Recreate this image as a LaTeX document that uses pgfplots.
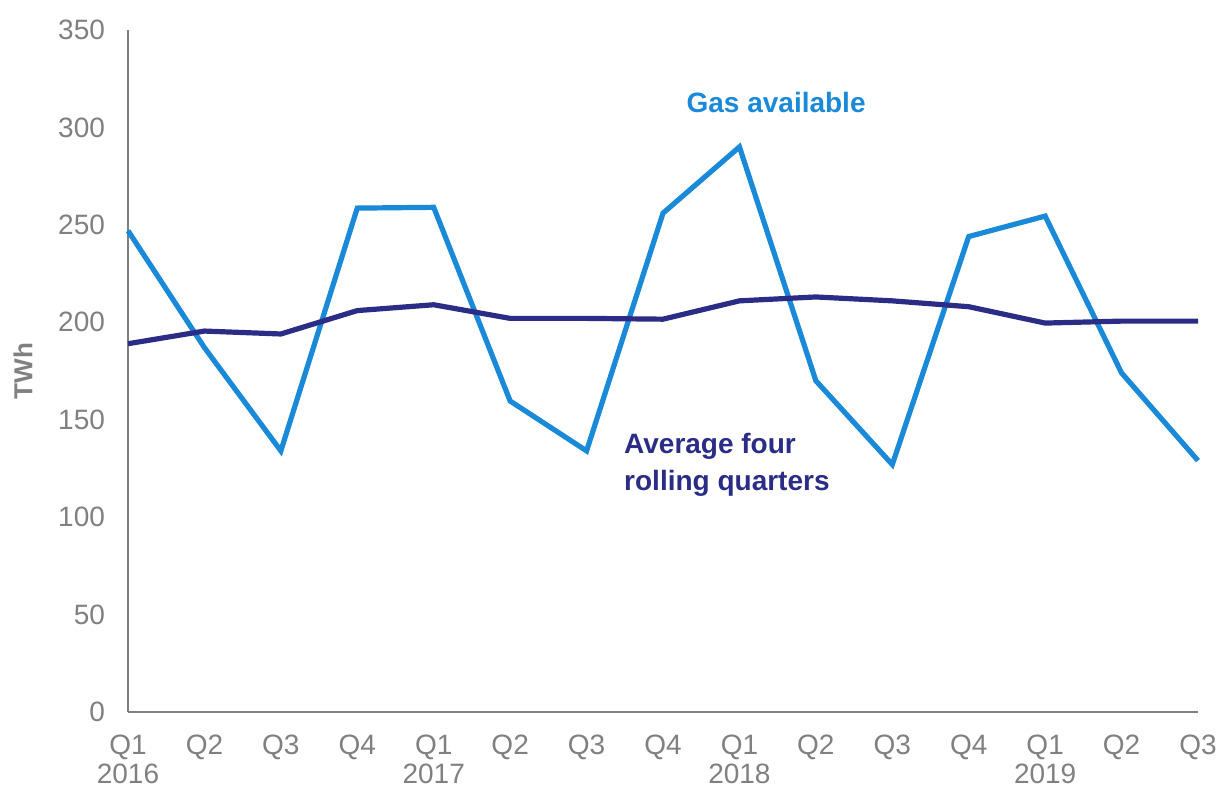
\documentclass[border=0pt]{standalone}
\usepackage{pgfplots}
\pgfplotsset{compat=1.18}
\usepackage{fontspec}
\setmainfont{Liberation Sans}
\definecolor{gasblue}{HTML}{1A8AD8}
\definecolor{navy}{HTML}{2B2C85}
\definecolor{axgray}{HTML}{808080}
\begin{document}
\begin{tikzpicture}
\begin{axis}[
  name=ax,
  scale only axis,
  width=535pt, height=341pt,
  xmin=0, xmax=14, ymin=0, ymax=350,
  axis lines=left,
  axis line style={-, axgray, line width=1pt},
  major tick length=0pt,
  ytick={0,50,...,350},
  xtick={0,...,14},
  xticklabels={{Q1\\2016},Q2,Q3,Q4,{Q1\\2017},Q2,Q3,Q4,{Q1\\2018},Q2,Q3,Q4,{Q1\\2019},Q2,Q3},
  xticklabel style={align=center, font=\fontsize{14}{14.5}\selectfont, text=axgray, anchor=north, yshift=-8pt},
  yticklabel style={font=\fontsize{14}{16}\selectfont, text=axgray, xshift=-8pt},
  /pgf/number format/assume math mode=true,
  ylabel={\textbf{TWh}},
  ylabel style={font=\fontsize{13}{15}\selectfont, text=axgray, yshift=6pt},
  clip=false,
]
\addplot[gasblue, line width=2.6pt] coordinates {
(0,247) (1,187) (2,134) (3,258.6) (4,259) (5,159.6) (6,134) (7,256)
(8,290) (9,170) (10,127) (11,244) (12,254.5) (13,174) (14,129)};
\addplot[navy, line width=2.6pt] coordinates {
(0,189) (1,195.5) (2,194) (3,206) (4,209) (5,202) (6,202) (7,201.6)
(8,211) (9,213) (10,211) (11,208) (12,199.6) (13,200.6) (14,200.6)};
\node[text=gasblue, font=\bfseries\fontsize{14}{15}\selectfont] at (axis cs:8.48,313) {Gas available};
\node[text=navy, font=\bfseries\fontsize{14}{18.5}\selectfont, align=left, anchor=west] at (axis cs:6.40,127) {Average four\\rolling quarters};
\end{axis}
\pgfresetboundingbox
\path (ax.south west) ++(-64pt,-37.5pt) rectangle ++(609.5pt,393.5pt);
\end{tikzpicture}
\end{document}
